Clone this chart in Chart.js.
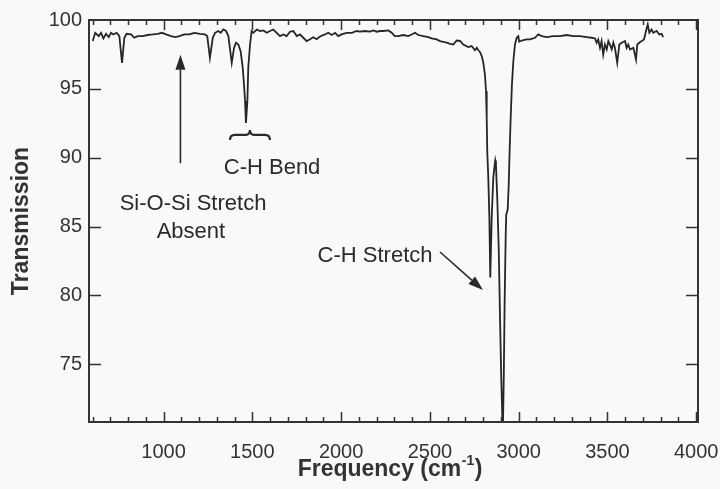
<!DOCTYPE html>
<html><head><meta charset="utf-8">
<script src="https://cdn.jsdelivr.net/npm/chart.js@4.4.1/dist/chart.umd.min.js"></script>
<style>html,body{margin:0;padding:0;background:#f9f9f7;}#wrap{width:720px;height:489px;}</style>
</head><body><div id="wrap"><canvas id="c" width="720" height="489"></canvas></div>
<script>
const frequency = [601,615,635,648,661,676,691,704,717,736,751,766,779,792,817,835,854,882,911,939,967,991,1014,1042,1066,1089,1117,1145,1173,1205,1233,1246,1261,1277,1290,1308,1322,1336,1352,1365,1384,1397,1408,1421,1434,1446,1453,1459,1464,1472,1477,1487,1496,1505,1525,1543,1562,1581,1599,1618,1637,1656,1674,1693,1712,1731,1750,1768,1787,1806,1825,1843,1862,1881,1909,1928,1947,1966,1984,2003,2031,2060,2088,2106,2134,2163,2181,2200,2219,2238,2266,2285,2303,2322,2350,2378,2397,2416,2435,2463,2491,2510,2538,2557,2575,2595,2613,2632,2651,2670,2688,2716,2735,2754,2764,2773,2782,2792,2801,2810,2816,2820,2823,2829,2835,2840,2848,2857,2865,2868,2872,2880,2888,2895,2902,2908,2911,2916,2921,2927,2930,2938,2944,2949,2955,2962,2970,2979,2989,2998,3003,3017,3045,3064,3092,3110,3130,3158,3195,3233,3270,3308,3345,3383,3411,3430,3439,3448,3458,3467,3476,3486,3496,3505,3514,3524,3533,3542,3555,3567,3580,3599,3608,3617,3627,3646,3661,3668,3679,3693,3706,3717,3727,3736,3749,3758,3777,3792,3805,3814];
const transmission = [98.47,99.07,98.83,99.07,98.66,99.0,98.76,99.07,98.95,99.07,98.83,96.89,98.71,99.0,98.95,98.71,98.83,98.83,98.91,98.95,99.0,99.07,98.95,98.83,98.76,98.83,98.95,98.95,99.07,99.0,98.95,98.83,97.25,98.71,99.07,99.2,99.07,99.31,99.2,98.83,96.89,97.98,98.35,98.22,97.74,96.53,95.31,94.11,92.53,94.11,96.53,98.22,99.2,99.07,99.31,99.2,99.24,99.07,99.2,99.31,99.07,98.83,98.95,98.83,99.15,99.2,98.83,98.95,98.71,98.47,98.6,98.75,98.6,98.8,98.95,99.07,98.91,99.07,98.83,98.95,99.07,99.07,99.2,99.15,99.2,99.15,99.24,99.15,99.2,99.2,99.24,99.07,98.83,98.83,98.91,98.83,98.95,99.07,98.91,98.83,98.76,98.66,98.59,98.47,98.42,98.35,98.27,98.22,98.51,98.49,98.22,98.03,98.11,97.8,97.98,97.8,97.68,97.38,96.89,96.04,94.83,92.89,90.47,88.53,85.62,81.3,85.62,88.53,89.49,89.79,89.49,86.83,83.2,78.34,73.98,71.07,70.2,73.98,79.56,84.4,85.86,86.22,88.04,90.47,92.89,95.31,97.01,98.22,98.71,98.83,98.42,98.51,98.59,98.59,98.71,98.95,98.83,98.76,98.83,98.83,98.91,98.83,98.83,98.76,98.71,98.66,98.35,98.59,97.98,98.47,97.49,98.22,97.86,98.47,98.22,97.86,98.35,97.98,96.89,98.22,98.35,98.47,97.98,98.22,97.86,97.98,97.13,98.22,98.35,98.47,98.59,99.2,99.68,99.07,99.31,99.07,99.2,98.95,99.0,98.76];
const xTickLabels = [1000,1500,2000,2500,3000,3500,4000];
const yTickLabels = [75,80,85,90,95,100];
const xTitle = 'Frequency (cm';
const xTitleSup = '-1';
const yTitle = 'Transmission';
const annotationTexts = [
  {text:'Si-O-Si Stretch', f:1166, t:86.64},
  {text:'Absent', f:1154, t:84.6},
  {text:'C-H Bend', f:1611, t:89.25},
  {text:'C-H Stretch', f:2191, t:82.85}
];
const arrows = [
  {f1:1095, t1:89.6, f2:1095, t2:97.47},
  {f1:2557, t1:83.15, f2:2799, t2:80.38}
];
const brace = {f1:1374, f2:1599, t:91.65};

const FONT = '"Liberation Sans", Arial, Helvetica, sans-serif';
const INK = '#2a2a2a';

const decor = {
  id:'decor',
  beforeDraw(chart){
    const c = chart.ctx;
    c.save(); c.fillStyle = '#f9f9f7'; c.fillRect(0,0,chart.width,chart.height); c.restore();
  },
  afterDraw(chart){
    const c = chart.ctx, a = chart.chartArea, xs = chart.scales.x, ys = chart.scales.y;
    c.save();
    c.strokeStyle = '#333'; c.lineWidth = 2;
    c.strokeRect(a.left, a.top, a.right - a.left, a.bottom - a.top);
    c.lineWidth = 1.5;
    c.beginPath();
    for (let v = 600; v <= 4000; v += 100) {
      const x = Math.round(xs.getPixelForValue(v)) + 0.5;
      const len = (v % 500 === 0) ? 10 : 5;
      c.moveTo(x, a.bottom); c.lineTo(x, a.bottom - len);
      c.moveTo(x, a.top); c.lineTo(x, a.top + len);
    }
    yTickLabels.forEach(v => {
      if (v >= 100) return;
      const y = Math.round(ys.getPixelForValue(v)) + 0.5;
      c.moveTo(a.left, y); c.lineTo(a.left + 12, y);
      c.moveTo(a.right, y); c.lineTo(a.right - 12, y);
    });
    c.stroke();

    c.fillStyle = INK;
    c.font = '22px ' + FONT;
    c.textAlign = 'center'; c.textBaseline = 'middle';
    annotationTexts.forEach(o => {
      c.fillText(o.text, xs.getPixelForValue(o.f), ys.getPixelForValue(o.t));
    });

    c.strokeStyle = INK; c.lineWidth = 1.6;
    arrows.forEach(o => {
      const x1 = xs.getPixelForValue(o.f1), y1 = ys.getPixelForValue(o.t1);
      const x2 = xs.getPixelForValue(o.f2), y2 = ys.getPixelForValue(o.t2);
      const ang = Math.atan2(y2 - y1, x2 - x1);
      const hl = 15, hw = 5;
      const bx = x2 - hl * Math.cos(ang), by = y2 - hl * Math.sin(ang);
      c.beginPath(); c.moveTo(x1, y1); c.lineTo(bx, by); c.stroke();
      c.beginPath();
      c.moveTo(x2, y2);
      c.lineTo(bx + hw * Math.sin(ang), by - hw * Math.cos(ang));
      c.lineTo(bx - hw * Math.sin(ang), by + hw * Math.cos(ang));
      c.closePath(); c.fill();
    });

    const bl = xs.getPixelForValue(brace.f1), br = xs.getPixelForValue(brace.f2);
    const by0 = ys.getPixelForValue(brace.t), bc = (bl + br) / 2;
    c.lineWidth = 2.2;
    c.beginPath();
    c.moveTo(bl, by0 + 5);
    c.quadraticCurveTo(bl, by0, bl + 5, by0);
    c.lineTo(bc - 5, by0);
    c.quadraticCurveTo(bc, by0, bc, by0 - 5);
    c.quadraticCurveTo(bc, by0, bc + 5, by0);
    c.lineTo(br - 5, by0);
    c.quadraticCurveTo(br, by0, br, by0 + 5);
    c.stroke();

    const mainFont = 'bold 23px ' + FONT, supFont = 'bold 14px ' + FONT;
    c.fillStyle = '#333';
    c.textAlign = 'left'; c.textBaseline = 'alphabetic';
    c.font = mainFont; const w1 = c.measureText(xTitle).width; const w3 = c.measureText(')').width;
    c.font = supFont; const w2 = c.measureText(xTitleSup).width;
    const total = w1 + w2 + 1 + w3;
    let x0 = 390 - total / 2;
    const base = 476;
    c.font = mainFont; c.fillText(xTitle, x0, base);
    c.font = supFont; c.fillText(xTitleSup, x0 + w1 + 0.5, base - 11);
    c.font = mainFont; c.fillText(')', x0 + w1 + w2 + 1, base);
    c.restore();
  }
};

new Chart(document.getElementById('c').getContext('2d'), {
  type:'line',
  data:{datasets:[{
    data: frequency.map((f,i) => ({x:f, y:transmission[i]})),
    borderColor:'#262626', borderWidth:1.8, pointRadius:0, tension:0, fill:false
  }]},
  options:{
    responsive:false, animation:false, devicePixelRatio:1,
    layout:{padding:{top:20, right:22, left:0, bottom:0}},
    plugins:{legend:{display:false}, tooltip:{enabled:false}},
    scales:{
      x:{
        type:'linear', min:580, max:4010,
        grid:{display:false, drawTicks:false}, border:{display:false},
        afterBuildTicks:s => { s.ticks = xTickLabels.map(v => ({value:v})); },
        afterFit:s => { s.height = 67; s.paddingLeft = 0; s.paddingRight = 0; },
        ticks:{padding:18, color:'#333', autoSkip:false, maxRotation:0,
               font:{family:FONT, size:20}, callback:v => String(v)}
      },
      y:{
        min:70.8, max:100,
        grid:{display:false, drawTicks:false}, border:{display:false},
        afterBuildTicks:s => { s.ticks = yTickLabels.map(v => ({value:v})); },
        afterFit:s => { s.width = 89; s.paddingTop = 0; s.paddingBottom = 0; },
        ticks:{padding:7, color:'#333', font:{family:FONT, size:20}, callback:v => String(v)},
        title:{display:true, text:yTitle, color:'#333', font:{family:FONT, size:23, weight:'bold'}, padding:{top:8, bottom:0}}
      }
    }
  },
  plugins:[decor]
});
</script>
</body></html>
